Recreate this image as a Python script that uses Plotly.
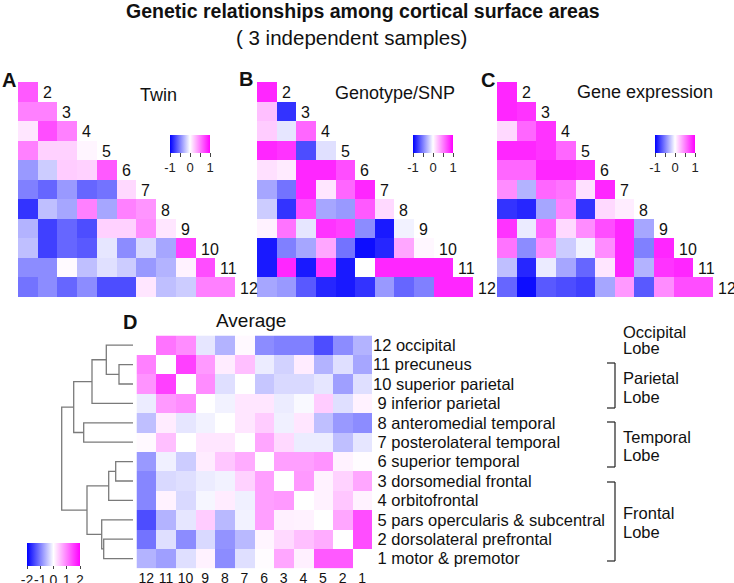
import plotly.graph_objects as go

W, H = 734, 583
FONT = "Liberation Sans, Arial, sans-serif"

# ---------------- data ----------------
tri_row_labels = ["2", "3", "4", "5", "6", "7", "8", "9", "10", "11", "12"]

twin = [
    [0.65],
    [0.5, 0.5],
    [0.1, 0.7, 0.5],
    [0.5, 0.18, 0.18, 0.04],
    [-0.4, -0.2, 0.2, 0.18, 0.65],
    [-0.5, -0.6, -0.4, -0.6, -0.55, 0.15],
    [-0.8, -0.25, -0.35, 0.5, -0.35, 0.5, 0.42],
    [-0.3, -0.75, -0.6, -0.7, 0.18, 0.18, 0.45, 0.1],
    [-0.25, -0.75, -0.6, -0.65, -0.1, -0.45, -0.15, -0.35, 0.75],
    [-0.45, -0.45, 0.02, -0.25, -0.12, -0.2, -0.4, -0.3, 0.05, 0.7],
    [-0.55, -0.45, -0.6, -0.45, -0.7, -0.7, 0.1, -0.25, -0.2, 0.5, 0.5],
]

snp = [
    [0.85],
    [0.25, -0.8],
    [0.2, -0.1, 0.6],
    [0.85, 0.8, -0.7, -0.12],
    [0.12, 0.08, 0.85, 0.85, 0.7],
    [-0.35, -0.55, 0.85, 0.1, 0.6, 0.85],
    [-0.2, -0.8, 0.7, -0.35, -0.4, 0.65, 0.15],
    [0.05, 0.55, -0.1, 0.8, 0.75, -0.45, -0.9, -0.05],
    [-0.9, -0.5, -0.35, 0.35, -0.55, -0.95, -0.85, 0.35, 0.03],
    [-0.9, 0.85, -0.9, 0.8, -0.9, 0.0, 0.85, 0.85, 0.85, 0.85],
    [-0.35, -0.4, -0.65, -0.85, -0.9, -0.8, -0.4, -0.6, -0.5, 0.85, 0.85],
]

expr = [
    [0.85],
    [0.85, 0.8],
    [0.15, 0.6, 0.8],
    [0.85, 0.85, 0.8, 0.6],
    [0.6, 0.6, 0.85, 0.85, 0.8],
    [0.45, -0.3, 0.6, 0.55, 0.12, 0.85],
    [-0.8, -0.85, -0.35, 0.5, -0.8, 0.15, 0.07],
    [0.8, -0.08, 0.6, 0.15, 0.45, 0.7, 0.85, -0.35],
    [0.55, -0.45, 0.45, -0.2, -0.05, 0.45, 0.85, -0.5, 0.85],
    [-0.25, -0.85, -0.08, -0.35, -0.6, 0.1, 0.85, -0.3, 0.8, 0.85],
    [-0.6, -0.95, -0.65, -0.7, -0.75, -0.35, 0.4, -0.65, 0.45, 0.7, 0.7],
]

avg_order = ["12", "11", "10", "9", "8", "7", "6", "3", "4", "5", "2", "1"]
avg_names = ["12 occipital", "11 precuneus", "10 superior parietal",
             "\u00a09 inferior parietal", "\u00a08 anteromedial temporal",
             "\u00a07 posterolateral temporal", "\u00a06 superior temporal",
             "\u00a03 dorsomedial frontal", "\u00a04 orbitofrontal",
             "\u00a05 pars opercularis & subcentral",
             "\u00a02 dorsolateral prefrontal", "\u00a01 motor & premotor"]
avg = [
    [0, 1.1, 0.9, -0.2, -0.6, 0.05, -0.9, -1.0, -1.0, -1.4, -0.9, -0.6],
    [1.0, 0, 1.5, 0.8, 0.15, 0.5, -0.15, -0.35, 0.15, -0.6, -0.25, -0.7],
    [0.85, 1.5, 0, 0.9, -0.25, 0, -0.45, -0.3, -0.3, -0.2, -0.75, -0.25],
    [-0.15, 0.8, 0.9, 0, -0.1, 0.2, 0.2, -0.15, -0.05, 0.4, -0.25, 0.1],
    [-0.5, 0.15, -0.2, -0.1, 0, 0.2, 0.4, -0.12, 0.2, -0.5, -0.8, -0.9],
    [0.05, 0.5, 0, 0.2, 0.2, 0, 0.7, 0.3, -0.15, -0.15, -0.5, -0.2],
    [-0.8, -0.12, -0.4, 0.15, 0.45, 0.65, 0, 0.75, 0.75, 0.85, 0.1, 0.02],
    [-0.95, -0.3, -0.25, -0.15, -0.1, 0.35, 0.75, 0, 0.8, 0.1, 0.35, 0.7],
    [-0.95, 0.1, -0.3, -0.07, 0.15, -0.12, 0.75, 0.8, 0, 0.1, 0.45, 0.1],
    [-1.4, -0.6, -0.2, 0.4, -0.55, -0.1, 0.75, 0.12, 0.1, 0, 0.7, 1.4],
    [-1.1, -0.25, -0.9, -0.3, -0.85, -0.55, 0.08, 0.3, 0.5, 0.65, 0, 1.4],
    [-0.6, -0.75, -0.25, 0.1, -0.9, -0.25, 0.02, 0.7, 0.12, 1.3, 1.3, 0],
]

# dendrogram: (child_a, child_b, merge height); "mK" = K-th merge
dendro_links = [
    ("11", "10", 14.0),
    ("12", "m0", 26.7),
    ("m1", "9", 41.0),
    ("8", "7", 49.3),
    ("m2", "m3", 59.3),
    ("6", "3", 17.3),
    ("m5", "4", 24.3),
    ("2", "1", 29.3),
    ("5", "m7", 31.3),
    ("m6", "m8", 46.0),
    ("m4", "m9", 71.3),
]

lobes = [("Occipital", "Lobe", False), ("Parietal", "Lobe", True),
         ("Temporal", "Lobe", True), ("Frontal", "Lobe", True)]

# ---------------- helpers ----------------
def px(x):
    return x / W

def py(y):
    return 1 - y / H

cscale = [[0, "rgb(0,0,255)"], [0.5, "rgb(255,255,255)"], [1, "rgb(255,0,255)"]]

def tri_matrix(rows):
    n = len(rows)
    return [[r[c] if c < len(r) else None for c in range(n)] for r in rows]

fig = go.Figure()

panels = [
    ("x", "y", twin, 170),
    ("x2", "y2", snp, 413),
    ("x3", "y3", expr, 655),
]
TRI_TOP, TRI_BOT = 82, 297

annotations = []
for (xa, ya, data, cbx) in panels:
    fig.add_trace(go.Heatmap(
        z=tri_matrix(data), x=list(range(11)), y=list(range(11)),
        xaxis=xa, yaxis=ya, colorscale=cscale, zmin=-1, zmax=1,
        hoverongaps=False, showscale=True,
        colorbar=dict(orientation="h", x=px(cbx), y=py(135), xanchor="left",
                      yanchor="top", len=40, lenmode="pixels", thickness=18,
                      thicknessmode="pixels", outlinewidth=0, xpad=0, ypad=0,
                      ticks="outside", ticklen=4, tickwidth=1, tickcolor="#444",
                      tickangle=0,
                      tickvals=[-1, -0.5, 0, 0.5, 1],
                      ticktext=["-1", "", "0", "", "1"],
                      tickfont=dict(size=13, family=FONT, color="#222")),
    ))
    for i, lab in enumerate(tri_row_labels):
        annotations.append(dict(
            x=i + 0.5, y=i, xref=xa, yref=ya, text=lab, showarrow=False,
            xanchor="left", yanchor="middle", xshift=3, yshift=-1,
            font=dict(size=16, family=FONT, color="#111")))

# average heatmap
fig.add_trace(go.Heatmap(
    z=avg, x=list(range(12)), y=list(range(12)), xaxis="x4", yaxis="y4",
    colorscale=cscale, zmin=-2, zmax=2, showscale=True,
    colorbar=dict(orientation="h", x=px(27), y=py(543), xanchor="left",
                  yanchor="top", len=53, lenmode="pixels", thickness=23,
                  thicknessmode="pixels", outlinewidth=0, xpad=0, ypad=0,
                  ticks="outside", ticklen=3, tickwidth=1, tickcolor="#444",
                  tickangle=0,
                  tickvals=[-2, -1, 0, 1, 2],
                  ticktext=["-2", "-1", "0", "1", "2"],
                  tickfont=dict(size=14, family=FONT, color="#222")),
))

# dendrogram from links
pos = {name: float(i) for i, name in enumerate(avg_order)}
hgt = {name: 0.0 for name in avg_order}
for k, (a, b, h) in enumerate(dendro_links):
    ya_, yb_ = pos[a], pos[b]
    fig.add_trace(go.Scatter(
        x=[hgt[a], h, h, hgt[b]], y=[ya_, ya_, yb_, yb_], mode="lines",
        xaxis="x5", yaxis="y5", line=dict(color="#7a7a7a", width=1.3),
        hoverinfo="skip", showlegend=False))
    pos["m%d" % k] = (ya_ + yb_) / 2
    hgt["m%d" % k] = h

AVG_TOP, AVG_BOT = 335.5, 568.3
hide = dict(visible=False, showgrid=False, zeroline=False)
fig.update_layout(
    width=W, height=H, margin=dict(l=0, r=0, t=0, b=0, autoexpand=False),
    paper_bgcolor="white", plot_bgcolor="white", showlegend=False,
    font=dict(family=FONT, color="#111"),
    xaxis=dict(domain=[px(18), px(235)], range=[-0.5, 10.5], anchor="y", **hide),
    yaxis=dict(domain=[py(TRI_BOT), py(TRI_TOP)], range=[10.5, -0.5], anchor="x", **hide),
    xaxis2=dict(domain=[px(257), px(473)], range=[-0.5, 10.5], anchor="y2", **hide),
    yaxis2=dict(domain=[py(TRI_BOT), py(TRI_TOP)], range=[10.5, -0.5], anchor="x2", **hide),
    xaxis3=dict(domain=[px(497), px(713)], range=[-0.5, 10.5], anchor="y3", **hide),
    yaxis3=dict(domain=[py(TRI_BOT), py(TRI_TOP)], range=[10.5, -0.5], anchor="x3", **hide),
    xaxis4=dict(domain=[px(136.5), px(372)], range=[-0.5, 11.5], anchor="y4",
                showgrid=False, zeroline=False, showline=False, ticks="",
                automargin=False,
                tickvals=list(range(12)), ticktext=avg_order,
                tickfont=dict(size=14, family=FONT, color="#111")),
    yaxis4=dict(domain=[py(AVG_BOT), py(AVG_TOP)], range=[11.5, -0.5],
                side="right", anchor="x4", showgrid=False, zeroline=False,
                showline=False, ticks="", tickvals=list(range(12)),
                automargin=False, ticktext=avg_names,
                tickfont=dict(size=16.5, family=FONT, color="#111")),
    xaxis5=dict(domain=[0, px(136.5)], range=[133, -3.5], anchor="y5", **hide),
    yaxis5=dict(domain=[py(AVG_BOT), py(AVG_TOP)], range=[11.5, -0.5], anchor="x5", **hide),
)

# titles and letters
annotations += [
    dict(x=px(363), y=py(11), text="<b>Genetic relationships among cortical surface areas</b>",
         font=dict(size=19.5, family=FONT, color="#111")),
    dict(x=px(351), y=py(37), text="( 3 independent samples)",
         font=dict(size=20.5, family=FONT, color="#111")),
    dict(x=px(0), y=py(80), text="<b>A</b>", xanchor="left", font=dict(size=20, family=FONT, color="#111")),
    dict(x=px(237), y=py(79), text="<b>B</b>", xanchor="left", font=dict(size=20, family=FONT, color="#111")),
    dict(x=px(479), y=py(80), text="<b>C</b>", xanchor="left", font=dict(size=20, family=FONT, color="#111")),
    dict(x=px(121), y=py(322), text="<b>D</b>", xanchor="left", font=dict(size=20, family=FONT, color="#111")),
    dict(x=px(158), y=py(95), text="Twin", font=dict(size=18, family=FONT, color="#111")),
    dict(x=px(395), y=py(93), text="Genotype/SNP", font=dict(size=18, family=FONT, color="#111")),
    dict(x=px(645), y=py(92), text="Gene expression", font=dict(size=18, family=FONT, color="#111")),
    dict(x=px(251), y=py(320), text="Average", font=dict(size=19, family=FONT, color="#111")),
]

lobe_text_y = {"Occipital": (332, 348), "Parietal": (378, 397),
               "Temporal": (437, 455), "Frontal": (513, 532)}
lobe_brackets = {"Parietal": (363, 408), "Temporal": (422, 467), "Frontal": (482, 561)}
shapes = []
for name, second, has_bracket in lobes:
    y1, y2 = lobe_text_y[name]
    annotations.append(dict(x=px(621), y=py(y1), text=name, xanchor="left",
                            font=dict(size=16.5, family=FONT, color="#111")))
    annotations.append(dict(x=px(621), y=py(y2), text=second, xanchor="left",
                            font=dict(size=16.5, family=FONT, color="#111")))
    if has_bracket:
        t, b = lobe_brackets[name]
        for (xa0, ya0, xa1, ya1) in [(607, t, 615, t), (615, t, 615, b), (607, b, 615, b)]:
            shapes.append(dict(type="line", xref="paper", yref="paper",
                               x0=px(xa0), y0=py(ya0), x1=px(xa1), y1=py(ya1),
                               line=dict(color="#222", width=1.2)))

for a in annotations:
    a.setdefault("xref", "paper")
    a.setdefault("yref", "paper")
    a.setdefault("showarrow", False)
    a.setdefault("xanchor", "center")
    a.setdefault("yanchor", "middle")

fig.update_layout(annotations=annotations, shapes=shapes)
fig.write_html("out.html", config={"displayModeBar": False},
               post_script="document.body.style.margin='0px';document.body.style.overflow='hidden';")
